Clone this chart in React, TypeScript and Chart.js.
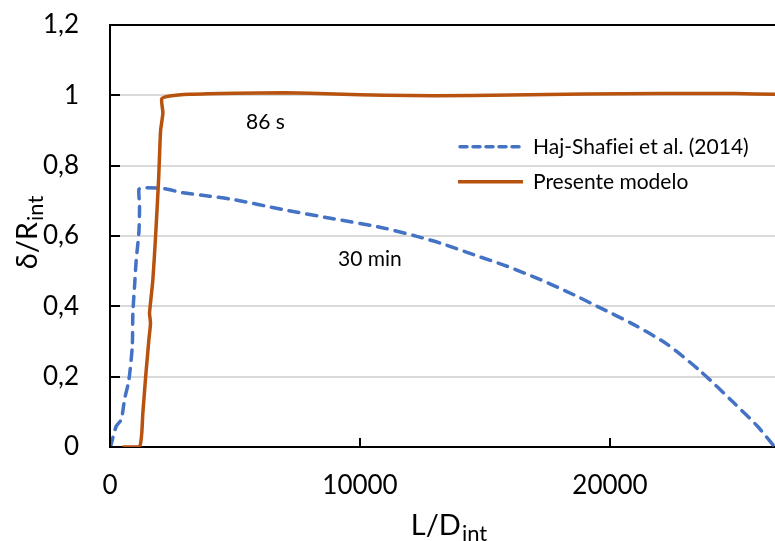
import React, { useEffect, useRef } from 'react';
import { Chart, registerables } from 'chart.js';

Chart.register(...registerables);

// Haj-Shafiei et al. (2014) — dashed blue series
const hajX = [20, 248, 449, 581, 754, 890, 914, 982, 1050, 1154, 1182, 1154, 1250, 2116, 2918, 3988, 4922, 6926, 8930, 10934, 12272, 13206, 14541, 15880, 17214, 18549, 19487, 20954, 22293, 23627, 24962, 25900, 26565];
const hajY = [0.0, 0.059, 0.078, 0.135, 0.19, 0.286, 0.38, 0.457, 0.533, 0.609, 0.685, 0.732, 0.737, 0.735, 0.723, 0.713, 0.704, 0.675, 0.649, 0.623, 0.599, 0.58, 0.547, 0.514, 0.476, 0.433, 0.40, 0.348, 0.292, 0.215, 0.125, 0.059, 0.002];

// Presente modelo — solid orange series
const modelX = [500, 1180, 1315, 1423, 1555, 1620, 1580, 1600, 1715, 1824, 1944, 2024, 2116, 2070, 2385, 3186, 5000, 7000, 9000, 11000, 13000, 16000, 19000, 22000, 25000, 26600];
const modelY = [0, 0, 0.098, 0.197, 0.305, 0.352, 0.38, 0.396, 0.476, 0.60, 0.76, 0.90, 0.95, 0.99, 0.998, 1.003, 1.006, 1.007, 1.004, 1.0, 0.999, 1.001, 1.004, 1.005, 1.005, 1.003];

const seriesNames = ['Haj-Shafiei et al. (2014)', 'Presente modelo'];
const xTicks = [0, 10000, 20000];
const yTicks = [0, 0.2, 0.4, 0.6, 0.8, 1, 1.2];
const yTickLabels = ['0', '0,2', '0,4', '0,6', '0,8', '1', '1,2'];
const xTickLabels = ['0', '10000', '20000'];
const notes = ['86 s', '30 min'];

const BLUE = '#4472C4';
const ORANGE = '#B8520F';
const FONT = 'Lato';

const overlay = {
  id: 'overlay',
  afterDraw(chart: any) {
    const { ctx, chartArea, scales } = chart;
    const x = scales.x;
    const y = scales.y;
    ctx.save();
    try {
      (ctx as any).textRendering = 'optimizeSpeed';
    } catch (e) {}
    // inner tick marks
    ctx.strokeStyle = '#000';
    ctx.lineWidth = 2;
    ctx.beginPath();
    yTicks.forEach((v) => {
      const py = Math.round(y.getPixelForValue(v));
      ctx.moveTo(chartArea.left, py);
      ctx.lineTo(chartArea.left + 10, py);
    });
    xTicks.forEach((v) => {
      const px = Math.round(x.getPixelForValue(v));
      ctx.moveTo(px, chartArea.bottom);
      ctx.lineTo(px, chartArea.bottom - 9);
    });
    ctx.stroke();

    // annotations
    ctx.fillStyle = '#000';
    ctx.font = `21px ${FONT}`;
    ctx.textAlign = 'left';
    ctx.textBaseline = 'alphabetic';
    ctx.fillText(notes[0], x.getPixelForValue(5440), y.getPixelForValue(0.904));
    ctx.fillText(notes[1], x.getPixelForValue(9120), y.getPixelForValue(0.516));

    // legend
    const lx0 = chartArea.left + 348;
    const lx1 = chartArea.left + 413;
    const rows = [chartArea.top + 121.7, chartArea.top + 156.7];
    ctx.lineWidth = 3.5;
    ctx.lineCap = 'round';
    ctx.strokeStyle = BLUE;
    ctx.setLineDash([7, 6]);
    ctx.beginPath();
    ctx.moveTo(lx0 + 2, rows[0]);
    ctx.lineTo(lx1, rows[0]);
    ctx.stroke();
    ctx.setLineDash([]);
    ctx.lineCap = 'butt';
    ctx.strokeStyle = ORANGE;
    ctx.beginPath();
    ctx.moveTo(lx0, rows[1]);
    ctx.lineTo(lx1, rows[1]);
    ctx.stroke();
    ctx.fillStyle = '#000';
    ctx.font = `21px ${FONT}`;
    ctx.fillText(seriesNames[0], lx1 + 10, rows[0] + 7);
    ctx.fillText(seriesNames[1], lx1 + 10, rows[1] + 7);

    // x-axis title  L/D_int
    const mainF = `29px ${FONT}`;
    const subF = `22px ${FONT}`;
    ctx.font = mainF;
    const wMainX = ctx.measureText('L/D').width;
    ctx.font = subF;
    const wSubX = ctx.measureText('int').width;
    const cx = (chartArea.left + chartArea.right) / 2 + 6;
    const sx = cx - (wMainX + wSubX) / 2;
    ctx.font = mainF;
    ctx.fillText('L/D', sx, 535);
    ctx.font = subF;
    ctx.fillText('int', sx + wMainX + 1, 541);

    // y-axis title  δ/R_int
    ctx.font = mainF;
    const wMainY = ctx.measureText('δ/R').width;
    ctx.font = subF;
    const wSubY = ctx.measureText('int').width;
    ctx.translate(37, 233);
    ctx.rotate(-Math.PI / 2);
    const sy = -(wMainY + wSubY) / 2;
    ctx.font = mainF;
    ctx.fillText('δ/R', sy, 0);
    ctx.font = subF;
    ctx.fillText('int', sy + wMainY + 1, 6);
    ctx.restore();
  },
};

export default function App() {
  const ref = useRef<HTMLCanvasElement | null>(null);

  useEffect(() => {
    document.body.style.margin = '0';
    let chart: Chart | null = null;
    let cancelled = false;
    const build = () => {
      if (cancelled || !ref.current) return;
      chart = new Chart(ref.current, {
        type: 'line',
        data: {
          datasets: [
            {
              label: seriesNames[0],
              data: hajX.map((v, i) => ({ x: v, y: hajY[i] })),
              borderColor: BLUE,
              borderWidth: 3.5,
              borderDash: [10, 8],
              borderCapStyle: 'round',
              pointRadius: 0,
              tension: 0.25,
              fill: false,
              order: 1,
            },
            {
              label: seriesNames[1],
              data: modelX.map((v, i) => ({ x: v, y: modelY[i] })),
              borderColor: ORANGE,
              borderWidth: 3.5,
              borderJoinStyle: 'round',
              pointRadius: 0,
              tension: 0.2,
              fill: false,
              order: 0,
            },
          ],
        },
        options: {
          animation: false,
          responsive: false,
          maintainAspectRatio: false,
          layout: { padding: { top: 25, left: 0, right: 0, bottom: 0 } },
          plugins: { legend: { display: false }, tooltip: { enabled: false } },
          scales: {
            x: {
              type: 'linear',
              min: 0,
              max: 26600,
              afterBuildTicks: (s: any) => {
                s.ticks = xTicks.map((v) => ({ value: v }));
              },
              afterFit: (s: any) => {
                s.height = 94;
                s.paddingLeft = 0;
                s.paddingRight = 0;
              },
              grid: { color: 'rgba(0,0,0,0)', drawTicks: false },
              border: { display: true, color: '#000', width: 2 },
              ticks: {
                padding: 23,
                color: '#000',
                font: { family: FONT, size: 26 },
                maxRotation: 0,
                callback: (v: any) => {
                  const i = xTicks.indexOf(Number(v));
                  return i >= 0 ? xTickLabels[i] : '';
                },
              },
            },
            y: {
              type: 'linear',
              min: 0,
              max: 1.2,
              afterBuildTicks: (s: any) => {
                s.ticks = yTicks.map((v) => ({ value: v }));
              },
              afterFit: (s: any) => {
                s.width = 110;
                s.paddingTop = 0;
                s.paddingBottom = 0;
              },
              grid: {
                drawTicks: false,
                color: (c: any) => {
                  const v = c.tick ? c.tick.value : 0;
                  if (Math.abs(v - 1.2) < 1e-6) return '#000';
                  if (Math.abs(v) < 1e-6) return 'rgba(0,0,0,0)';
                  return '#d9d9d9';
                },
                lineWidth: 2,
              },
              border: { display: true, color: '#000', width: 2 },
              ticks: {
                padding: 31,
                color: '#000',
                font: { family: FONT, size: 26 },
                callback: (v: any) => {
                  const i = yTicks.findIndex((t) => Math.abs(t - Number(v)) < 1e-6);
                  return i >= 0 ? yTickLabels[i] : '';
                },
              },
            },
          },
        },
        plugins: [overlay],
      } as any);
    };
    const fontsApi = (document as any).fonts;
    if (fontsApi && fontsApi.load) {
      Promise.all([
        fontsApi.load(`26px ${FONT}`),
        fontsApi.load(`21px ${FONT}`),
      ])
        .catch(() => null)
        .then(build);
    } else {
      build();
    }
    return () => {
      cancelled = true;
      if (chart) chart.destroy();
    };
  }, []);

  return (
    <div style={{ width: 775, height: 541, position: 'relative', background: '#fff' }}>
      <canvas ref={ref} width={775} height={541} style={{ width: 775, height: 541, display: 'block' }} />
    </div>
  );
}
